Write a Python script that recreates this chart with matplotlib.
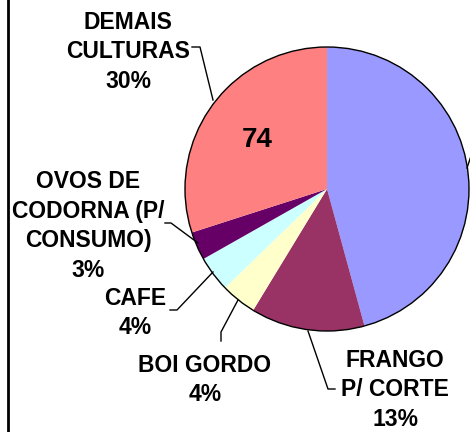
import matplotlib.pyplot as plt
from matplotlib.patches import Circle

plt.rcParams['font.family'] = ['Liberation Sans', 'DejaVu Sans']

# valores (sentido horario a partir do topo)
labels = ['', 'FRANGO\nP/ CORTE', 'BOI GORDO', 'CAFE', 'OVOS DE\nCODORNA (P/\nCONSUMO)', 'DEMAIS\nCULTURAS']
values = [113, 32, 10, 10, 8, 74]
colors = ['#9999FF', '#993366', '#FFFFCC', '#CCFFFF', '#660066', '#FF8080']

W, H = 470, 432
fig = plt.figure(figsize=(4.7, 4.32), dpi=100)
ax = fig.add_axes([0, 0, 1, 1])

cx, cy, r = 327, 189, 142
# eixo y invertido: startangle=-90 fica no topo, counterclock=True gira no sentido horario
wedges, _ = ax.pie(values, colors=colors, startangle=-90, counterclock=True,
                   center=(cx, cy), radius=r, frame=True,
                   wedgeprops=dict(linewidth=0))
ax.set_xlim(0, W)
ax.set_ylim(H, 0)
ax.set_aspect('equal')
ax.axis('off')
ax.add_patch(Circle((cx, cy), r, fill=False, ec='black', lw=1))

total = sum(values)
pct = [f'{round(v / total * 100)}%' for v in values]

fs = 16.5
ls = 1.37
# rotulos externos
ax.text(128, 52, labels[5] + '\n' + pct[5], ha='center', va='center',
        fontsize=fs, fontweight='bold', linespacing=ls)
ax.plot([192, 200, 213], [47, 47, 100], color='black', lw=1)

ax.text(88, 226, labels[4] + '\n' + pct[4], ha='center', va='center',
        fontsize=fs, fontweight='bold', linespacing=ls)
ax.plot([165, 171, 198], [223, 223, 243], color='black', lw=1)

ax.text(135, 313, labels[3] + '\n' + pct[3], ha='center', va='center',
        fontsize=fs, fontweight='bold', linespacing=ls)
ax.plot([170, 177, 213], [310, 310, 272], color='black', lw=1)

ax.text(205, 380, labels[2] + '\n' + pct[2], ha='center', va='center',
        fontsize=fs, fontweight='bold', linespacing=ls)
ax.plot([221, 221, 238], [341, 332, 300], color='black', lw=1)

ax.text(395, 390, labels[1] + '\n' + pct[1], ha='center', va='center',
        fontsize=fs, fontweight='bold', linespacing=ls)
ax.plot([308, 328, 335], [331, 389, 389], color='black', lw=1)

# linha do rotulo cortado (fatia azul)
ax.plot([467, 473], [168, 150], color='black', lw=1)

ax.text(257, 140, str(values[5]), ha='center', va='center',
        fontsize=20, fontweight='bold')

ax.plot([8, 8], [0, H], color='black', lw=2)

fig.savefig('out.png', dpi=100)
